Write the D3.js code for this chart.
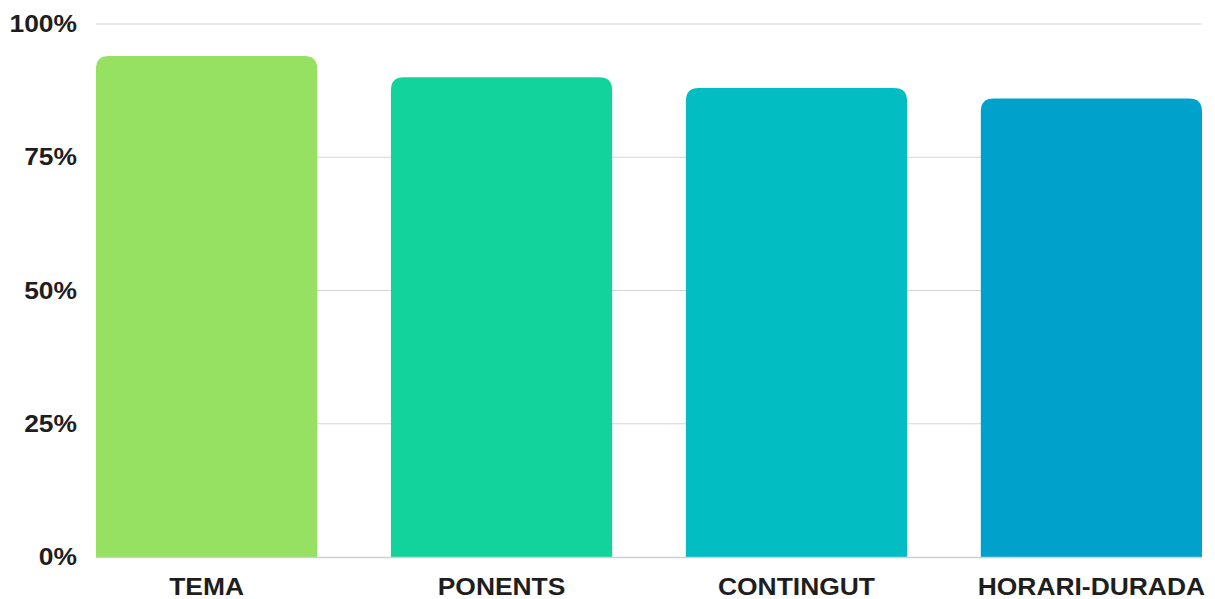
<!DOCTYPE html>
<html>
<head>
<meta charset="utf-8">
<script src="https://cdn.jsdelivr.net/npm/d3@7"></script>
<style>
  html, body { margin: 0; padding: 0; background: #fff; }
  svg { display: block; }
</style>
</head>
<body>
<svg id="chart" width="1215" height="599"></svg>
<script>
// Satisfaction per aspect
const categories = ["TEMA", "PONENTS", "CONTINGUT", "HORARI-DURADA"];
const values = [0.94, 0.90, 0.88, 0.86];
const barColors = ["#96E062", "#13D39D", "#02BEC3", "#00A1CA"];
const tickValues = [0, 0.25, 0.5, 0.75, 1];
const tickLabels = ["0%", "25%", "50%", "75%", "100%"];

const svg = d3.select("#chart");
const margin = { left: 96, right: 13, top: 24, bottom: 42 };
const W = 1215, H = 599;
const FONT = "'Liberation Sans', Arial, Helvetica, sans-serif";
const STRETCH = "scale(1.1,1)";

const x = d3.scaleBand()
  .domain(categories)
  .range([margin.left, W - margin.right])
  .paddingInner(0.25)
  .paddingOuter(0);

const y = d3.scaleLinear()
  .domain([0, 1])
  .range([H - margin.bottom, margin.top]);

// horizontal gridlines
svg.append("g")
  .selectAll("line")
  .data(tickValues.slice(1))
  .join("line")
  .attr("x1", margin.left)
  .attr("x2", W - margin.right)
  .attr("y1", d => y(d))
  .attr("y2", d => y(d))
  .attr("stroke", "#d4d4d4")
  .attr("stroke-width", 1.2);

// y axis tick labels
const yAxis = d3.axisLeft(y)
  .tickValues(tickValues)
  .tickFormat((d, i) => tickLabels[i])
  .tickSize(0)
  .tickPadding(0);

svg.append("g")
  .attr("transform", `translate(${77},0)`)
  .call(yAxis)
  .call(g => g.select(".domain").remove())
  .selectAll("text")
  .attr("transform", STRETCH)
  .attr("font-family", FONT)
  .attr("font-weight", "bold")
  .attr("font-size", 24)
  .attr("fill", "#1e1e1e");

// bars, rounded on top only
const r = 13;
function topRounded(x0, y0, w, h) {
  const rr = Math.min(r, h, w / 2);
  return `M${x0},${y0 + h}` +
    `V${y0 + rr}` +
    `Q${x0},${y0} ${x0 + rr},${y0}` +
    `H${x0 + w - rr}` +
    `Q${x0 + w},${y0} ${x0 + w},${y0 + rr}` +
    `V${y0 + h}Z`;
}

svg.append("g")
  .selectAll("path")
  .data(categories)
  .join("path")
  .attr("d", (c, i) => topRounded(x(c), y(values[i]), x.bandwidth(), y(0) - y(values[i])))
  .attr("fill", (c, i) => barColors[i]);

// baseline
svg.append("line")
  .attr("x1", margin.left)
  .attr("x2", W - margin.right)
  .attr("y1", y(0) + 0.5)
  .attr("y2", y(0) + 0.5)
  .attr("stroke", "#cfcfcf")
  .attr("stroke-width", 1.5);

// category labels
const xAxis = d3.axisBottom(x).tickSize(0).tickPadding(0);
svg.append("g")
  .attr("transform", `translate(0,${595})`)
  .call(xAxis)
  .call(g => g.select(".domain").remove())
  .selectAll("text")
  .attr("y", 0)
  .attr("dy", 0)
  .attr("transform", STRETCH)
  .attr("font-family", FONT)
  .attr("font-weight", "bold")
  .attr("font-size", 24)
  .attr("fill", "#1e1e1e");
</script>
</body>
</html>
